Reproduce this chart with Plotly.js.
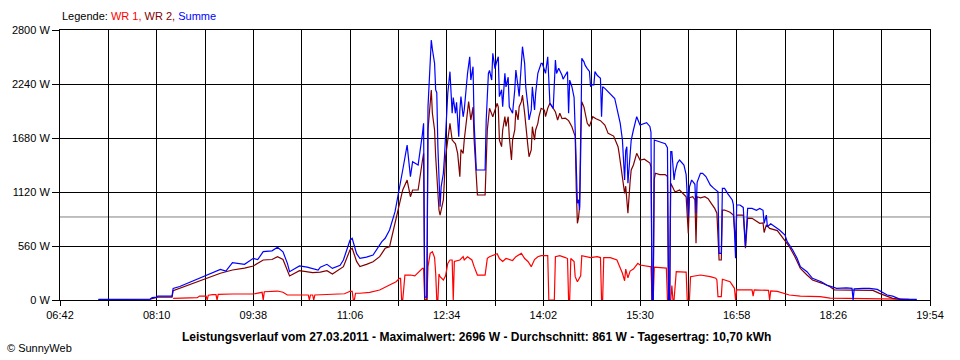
<!DOCTYPE html>
<html>
<head>
<meta charset="utf-8">
<script src="https://cdn.plot.ly/plotly-3.0.1.min.js"></script>
<style>html,body{margin:0;padding:0;background:#fff;}#chart{width:960px;height:360px;}</style>
</head>
<body>
<div id="chart"></div>
<script>
// Times are minutes since midnight
const gridTimes = ['06:42','07:26','08:10','08:54','09:38','10:22','11:06','11:50','12:34','13:18','14:02','14:46','15:30','16:14','16:58','17:42','18:26','19:10','19:54'];
const yTicks = [0, 560, 1120, 1680, 2240, 2800];
const average = 861;

// WR 1 (red)
const tWR1 = [505,518,527,529,535,536,537,541,544,545,546,559,578,586,587,588,600,605,609,620,628,629,630,632,633,634,648,661,666,668,669,670,671,675,684,693,702,708,711,712,713,714,716,721,725,729,732,733,734,736,737,739,741,743,744,745,746,747,748,751,753,755,757,759,760,761,766,769,770,773,777,779,782,789,791,793,798,800,802,805,808,811,814,817,822,825,828,831,834,837,840,843,846,847,852,853,857,862,864,865,866,867,870,871,873,876,877,885,891,894,895,896,897,903,909,914,916,917,919,921,924,928,930,939,940,941,942,943,953,954,955,958,959,960,961,963,971,972,973,975,976,985,994,999,1000,1001,1004,1005,1012,1016,1017,1018,1032,1033,1034,1047,1048,1049,1055,1066,1076,1094,1103,1124,1148,1167,1175];
const wr1 = [17,24,24,41,41,0,50,55,55,0,59,62,62,80,0,86,93,80,52,52,52,0,52,52,0,52,55,65,90,90,0,0,70,70,80,104,156,190,225,225,0,0,259,259,250,300,328,328,0,0,346,484,501,440,277,0,0,270,242,207,250,380,415,415,0,400,415,449,415,449,415,346,259,259,432,449,467,480,430,400,430,420,410,450,484,430,400,346,420,449,460,460,460,0,0,449,460,440,430,0,0,430,400,242,190,250,460,440,449,440,0,0,440,440,415,277,200,320,230,300,320,380,363,346,346,0,0,340,330,330,0,0,150,0,0,294,290,290,0,0,242,259,242,225,207,34,34,215,190,121,0,104,104,40,104,100,0,95,90,52,40,34,20,17,17,10,5];

// WR 2 (dark red)
const tWR2 = [437,484,491,504,505,518,529,541,548,559,570,578,587,595,600,605,609,611,620,632,639,645,650,660,666,668,672,675,681,687,693,698,702,707,711,714,718,721,723,728,732,733,734,736,737,739,740,741,743,744,747,748,751,753,755,757,759,762,764,766,767,769,770,772,774,776,778,779,781,782,789,790,791,793,796,798,800,801,802,804,805,807,808,810,811,813,814,816,817,819,820,822,823,825,826,828,829,831,832,834,835,837,838,840,843,844,846,848,851,853,855,857,859,862,865,868,870,871,872,873,874,875,876,877,879,882,884,887,890,894,898,901,906,909,910,911,913,914,916,917,918,919,921,922,924,927,930,934,939,940,941,942,943,944,948,953,955,956,957,958,961,962,966,970,972,973,974,975,978,980,981,982,985,989,992,995,998,1000,1002,1004,1005,1007,1012,1015,1017,1018,1024,1026,1028,1032,1036,1039,1042,1043,1045,1048,1055,1060,1066,1071,1076,1082,1087,1096,1103,1107,1124,1142,1148,1155,1160,1167,1175];
const wr2 = [5,8,30,30,97,150,200,250,277,311,330,353,415,420,449,420,300,249,304,283,290,304,270,346,520,536,400,346,370,397,449,536,553,795,968,1141,1244,1071,1141,1141,1452,1521,0,0,1763,2109,2178,1936,1763,1486,933,881,1037,1486,1659,1832,1659,1620,1521,1279,1560,1520,1659,1867,2057,1867,2000,1659,1210,1089,1089,1417,1763,1988,1900,1970,2040,2000,1659,1590,1763,1901,1800,1901,1694,1452,1659,1763,1970,1867,2004,2057,2126,1936,1797,1590,1486,1556,1797,1659,1763,1832,1901,1988,1970,1901,1988,2040,1988,1950,1867,1936,1880,1885,1860,1797,1728,1700,1141,795,850,968,1700,2057,2000,1832,1800,1901,1880,1860,1815,1728,1700,1625,1590,1520,1348,1300,1106,1180,1003,899,1230,1348,1400,1521,1452,1460,1420,1380,0,0,1250,1314,1300,1300,1280,0,0,1210,1141,1120,1141,1100,1071,880,691,1060,1071,1040,588,1071,1060,1071,1050,1000,950,900,415,415,933,933,910,881,600,881,881,536,850,847,820,795,800,700,780,743,720,640,553,449,328,259,207,173,138,104,100,100,69,40,17,7,7];

// Summe (blue)
const tSum = [437,466,484,486,490,491,504,505,511,518,529,541,548,553,559,570,578,582,587,595,600,605,609,611,616,620,627,632,637,639,645,650,657,660,663,666,668,670,672,675,681,687,691,695,698,702,707,711,714,718,721,723,728,732,733,734,736,737,739,740,741,743,744,745,746,748,749,751,752,754,755,757,759,760,762,763,765,766,767,769,770,773,775,776,778,779,781,784,789,790,792,793,795,796,798,799,801,802,804,805,807,808,810,811,814,816,817,819,820,822,823,825,826,828,829,831,832,834,835,837,838,840,841,844,846,848,851,853,854,856,859,860,862,864,865,866,868,870,871,872,873,874,875,876,877,879,880,882,884,885,886,888,889,891,894,895,896,898,901,904,907,910,912,914,916,917,918,919,921,922,924,927,930,936,939,940,941,942,943,948,953,955,956,957,958,959,961,962,964,966,968,970,972,973,974,975,977,978,980,981,982,985,987,990,994,997,999,1001,1002,1004,1005,1007,1010,1014,1015,1017,1018,1021,1024,1026,1028,1032,1036,1039,1042,1043,1045,1046,1049,1053,1057,1062,1064,1069,1073,1076,1082,1087,1095,1100,1104,1109,1118,1123,1124,1125,1133,1139,1146,1151,1155,1160,1167,1182];
const summe = [7,7,10,24,30,41,41,120,140,173,225,277,318,300,387,370,432,420,501,510,546,500,380,294,330,353,340,328,310,340,370,328,360,415,530,620,640,560,480,432,445,467,540,605,640,726,916,1141,1348,1607,1279,1434,1400,1728,1832,30,30,2000,2450,2696,2600,2454,2178,2150,1590,968,1175,1314,1486,2004,2143,2368,1936,2100,1936,2050,1694,1970,2109,1900,1970,2351,2523,2281,2420,1832,1348,1348,1348,1867,2351,2380,2281,2558,2400,2450,2523,2109,2180,2004,2350,2210,2310,2004,1936,2180,2385,2210,2110,2450,2627,2450,2210,2004,1867,1970,2212,1970,2143,2351,2385,2454,2454,2351,2523,2040,1988,2489,2350,2403,2330,2290,2330,2368,1936,2280,2212,2100,1763,1314,1003,1040,933,1521,2506,2470,2435,2400,2370,2212,2230,2230,2368,2330,2300,1901,2212,2195,2160,2126,2090,1936,1832,1659,1244,1550,1590,1210,1590,1659,1763,1901,1815,1839,1800,1740,0,0,1659,1640,1620,1580,0,0,1540,1540,1244,1330,1420,1452,1430,1400,1300,1106,864,1170,1244,1230,1200,900,1220,1314,1314,1280,1192,1160,1140,1123,484,484,1158,1158,1100,1037,990,432,985,985,960,553,950,950,930,950,930,795,880,760,790,760,726,674,605,519,432,346,294,225,190,156,138,121,125,121,0,115,121,121,110,76,52,40,7,7];

function toMin(s){const p=s.split(':');return (+p[0])*60+(+p[1]);}
const gridVals = gridTimes.map(toMin);
const gridText = gridTimes.map((s,i)=> i%2===0 ? s : '');

const FONT = '"Liberation Sans", Arial, sans-serif';

const traces = [
  {x:tWR1, y:wr1, type:'scatter', mode:'lines', name:'WR 1', line:{color:'#ff0000', width:1.2}},
  {x:tWR2, y:wr2, type:'scatter', mode:'lines', name:'WR 2', line:{color:'#800000', width:1.2}},
  {x:tSum, y:summe, type:'scatter', mode:'lines', name:'Summe', line:{color:'#0000ff', width:1.2}}
];

const layout = {
  width:960, height:360,
  margin:{l:60, r:30, t:30, b:60},
  paper_bgcolor:'#ffffff', plot_bgcolor:'#ffffff',
  showlegend:false,
  font:{family:FONT, size:11, color:'#000'},
  xaxis:{
    range:[gridVals[0], gridVals[gridVals.length-1]],
    tickmode:'array', tickvals:gridVals, ticktext:gridText,
    showgrid:true, gridcolor:'#000', gridwidth:1,
    showline:true, linecolor:'#000', linewidth:1, mirror:true,
    ticks:'outside', ticklen:5, tickcolor:'#000', tickwidth:1,
    zeroline:false, fixedrange:true,
    tickfont:{family:FONT, size:11, color:'#000'}
  },
  yaxis:{
    range:[0, 2800],
    tickmode:'array', tickvals:yTicks, ticktext:yTicks.map(v=>v+' W'),
    showgrid:true, gridcolor:'#000', gridwidth:1,
    showline:true, linecolor:'#000', linewidth:1, mirror:true,
    ticks:'outside', ticklen:7, tickcolor:'#000', tickwidth:1,
    zeroline:false, fixedrange:true,
    tickfont:{family:FONT, size:11, color:'#000'}
  },
  shapes:[{type:'line', xref:'paper', x0:0, x1:1, yref:'y', y0:average, y1:average, line:{color:'#808080', width:1}, layer:'below'}],
  annotations:[
    {xref:'paper', yref:'paper', x:0, y:1.052, xanchor:'left', yanchor:'middle', showarrow:false,
     text:'Legende: <span style="color:#ff0000">WR 1,</span> <span style="color:#800000">WR 2,</span> <span style="color:#0000ff">Summe</span>',
     font:{family:FONT, size:11, color:'#000'}},
    {xref:'paper', yref:'paper', x:0.479, y:-0.137, xanchor:'center', yanchor:'middle', showarrow:false,
     text:'<b>Leistungsverlauf vom 27.03.2011 - Maximalwert: 2696 W - Durchschnitt: '+average+' W - Tagesertrag: 10,70 kWh</b>',
     font:{family:FONT, size:12, color:'#000'}},
    {xref:'paper', yref:'paper', x:-0.0632, y:-0.178, xanchor:'left', yanchor:'middle', showarrow:false,
     text:'© SunnyWeb', font:{family:FONT, size:11, color:'#000'}}
  ]
};

Plotly.newPlot('chart', traces, layout, {staticPlot:true, displayModeBar:false});
</script>
</body>
</html>
